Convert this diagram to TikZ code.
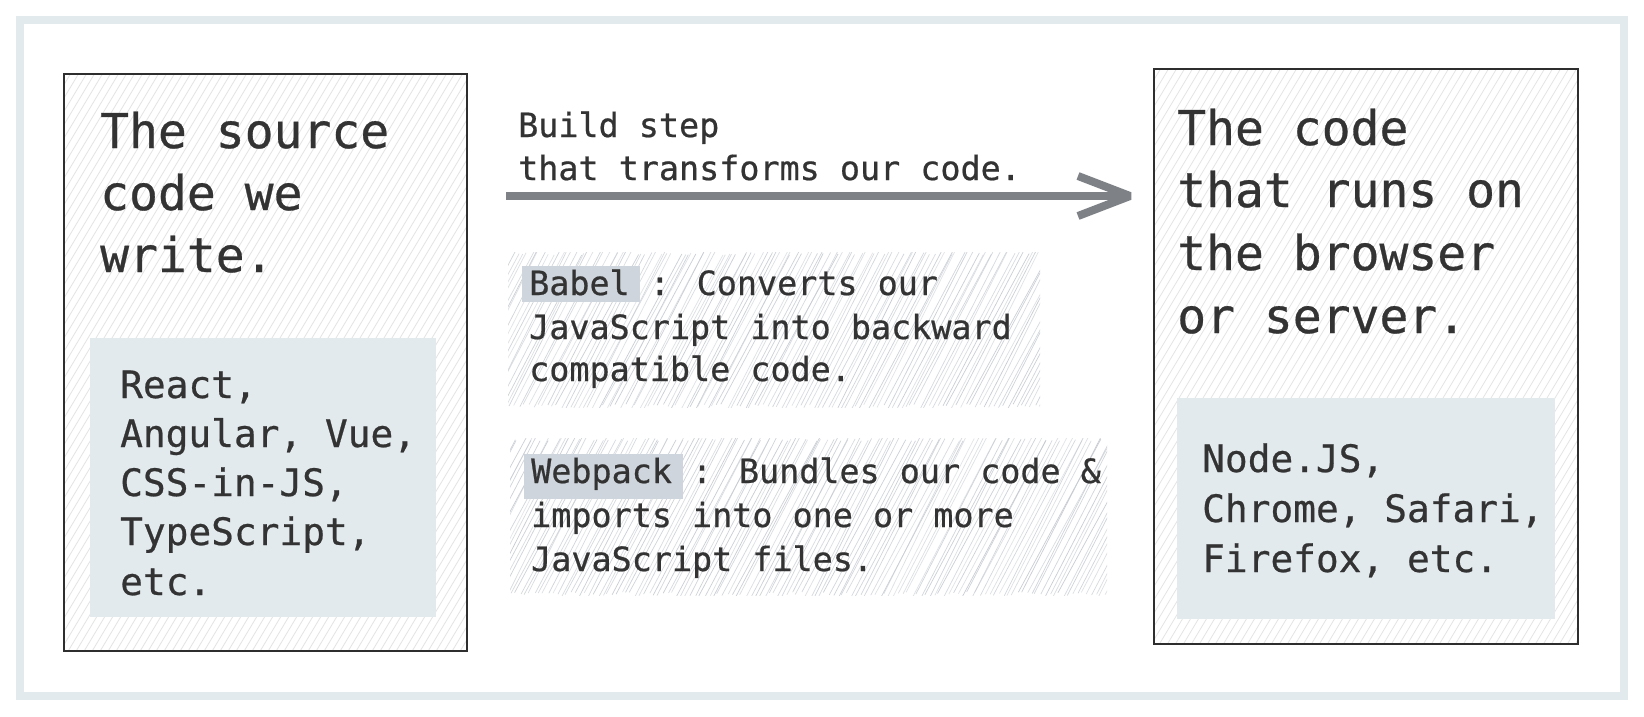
\documentclass[tikz,border=0pt]{standalone}
\usepackage{fontspec}
\newfontfamily\mono[FakeBold=0.6]{DejaVu Sans Mono}
\usetikzlibrary{calc}
\definecolor{framec}{HTML}{E3EAEE}
\definecolor{innerc}{HTML}{E3EAEE}
\definecolor{hlc}{HTML}{CFD5DC}
\definecolor{txtc}{HTML}{333333}
\definecolor{arrowc}{HTML}{7E8286}
\definecolor{hatchlight}{HTML}{E4E4E4}
\definecolor{hatchsketch}{HTML}{C6CBD1}
\definecolor{borderc}{HTML}{2E2E2E}

\newcommand\hatchfill[7]{% x1 y1 x2 y2 spacing slopefactor style
  \begin{scope}
    \clip (#1,#2) rectangle (#3,#4);
    \pgfmathsetmacro\hh{#4-#2}
    \pgfmathsetmacro\dxx{\hh*#6}
    \pgfmathtruncatemacro\nn{(#3-#1+\dxx)/#5+1}
    \foreach \i in {0,...,\nn}{
      \pgfmathsetmacro\xa{#1-\dxx+\i*#5}
      \draw[#7] (\xa,#4) -- ++(\dxx,-\hh);
    }
  \end{scope}}

\newcommand\sketchfill[4]{% x1 y1 x2 y2
  \begin{scope}
    \clip (#1,#2) rectangle (#3,#4);
    \pgfmathsetmacro\hh{#4-#2}
    \pgfmathsetmacro\dxx{\hh*0.52}
    \pgfmathtruncatemacro\nn{(#3-#1+\dxx)/4.6+1}
    \foreach \i in {0,...,\nn}{
      \pgfmathsetmacro\xa{#1-\dxx+\i*4.6+rand*1.5}
      \pgfmathsetmacro\ya{#4+rand*3}
      \pgfmathsetmacro\xb{\xa+\dxx+rand*3}
      \pgfmathsetmacro\yb{#2+rand*3}
      \pgfmathsetmacro\op{0.5+0.45*rnd}
      \draw[hatchsketch, line width=0.7pt, opacity=\op] (\xa,\ya) -- (\xb,\yb);
    }
  \end{scope}}

\begin{document}
\begin{tikzpicture}[x=1pt,y=-1pt,
  bigbox/.style={draw=borderc, line width=1.6pt, inner sep=0pt, anchor=north west},
  innerbox/.style={fill=innerc, draw=none, inner sep=0pt, anchor=north west},
  hlbox/.style={fill=hlc, draw=none, inner sep=0pt, anchor=north west},
  titletxt/.style={font=\mono\fontsize{48}{62}\selectfont, text=txtc, anchor=base west, inner sep=0pt},
  listtxt/.style={font=\mono\fontsize{37.8}{50}\selectfont, text=txtc, anchor=base west, inner sep=0pt},
  midtxt/.style={font=\mono\fontsize{33.4}{44}\selectfont, text=txtc, anchor=base west, inner sep=0pt},
  arrowline/.style={draw=arrowc, line width=8pt, line join=bevel}
]
\useasboundingbox (0,0) rectangle (1644,716);
\fill[white] (0,0) rectangle (1644,716);
\pgfmathsetseed{7}

% outer frame
\draw[framec, line width=8pt] (20,20) rectangle (1624,696);

% left box
\hatchfill{63}{73}{466}{650}{8}{0.6}{hatchlight, line width=0.8pt}
\node[innerbox, minimum width=346pt, minimum height=279pt] (srcinner) at (90,338) {};
\node[bigbox, minimum width=403pt, minimum height=577pt] (srcbox) at (63,73) {};

% right box
\hatchfill{1153}{68}{1577}{643}{8}{0.6}{hatchlight, line width=0.8pt}
\node[innerbox, minimum width=378pt, minimum height=221pt] (runinner) at (1177,398) {};
\node[bigbox, minimum width=424pt, minimum height=575pt] (runbox) at (1153,68) {};

% left texts
\node[titletxt] (lt1) at (100,148) {The source};
\node[titletxt] (lt2) at (100,210) {code we};
\node[titletxt] (lt3) at (100,272) {write.};
\node[listtxt] (ll1) at (120,398) {React,};
\node[listtxt] (ll2) at (120,447) {Angular, Vue,};
\node[listtxt] (ll3) at (120,496) {CSS-in-JS,};
\node[listtxt] (ll4) at (120,545) {TypeScript,};
\node[listtxt] (ll5) at (120,595) {etc.};

% right texts
\node[titletxt] (rt1) at (1177,145) {The code};
\node[titletxt] (rt2) at (1177,207) {that runs on};
\node[titletxt] (rt3) at (1177,270) {the browser};
\node[titletxt] (rt4) at (1177,333) {or server.};
\node[listtxt] (rl1) at (1202,472) {Node.JS,};
\node[listtxt] (rl2) at (1202,522) {Chrome, Safari,};
\node[listtxt] (rl3) at (1202,572) {Firefox, etc.};

% build step label and arrow
\node[midtxt] (bs1) at (518,137) {Build step};
\node[midtxt] (bs2) at (518,180) {that transforms our code.};
\coordinate (arrS) at (506,196);
\coordinate (arrE) at (1130,196);
\draw[arrowline] (arrS) -- (arrE);
\draw[arrowline] ($(arrE)+(-52,-20)$) -- (arrE) -- ($(arrE)+(-52,20)$);

% Babel
\sketchfill{508}{252}{1040}{407}
\node[hlbox, minimum width=118pt, minimum height=36pt] (hlbabel) at (522,266) {};
\node[midtxt] (b1) at (529,295) {Babel : Converts our};
\node[midtxt] (b2) at (529,339) {JavaScript into backward};
\node[midtxt] (b3) at (529,381) {compatible code.};

% Webpack
\sketchfill{510}{438}{1107}{595}
\node[hlbox, minimum width=159pt, minimum height=45pt] (hlweb) at (524,454) {};
\node[midtxt] (w1) at (531,483) {Webpack : Bundles our code \&};
\node[midtxt] (w2) at (531,527) {imports into one or more};
\node[midtxt] (w3) at (531,571) {JavaScript files.};
\end{tikzpicture}
\end{document}
